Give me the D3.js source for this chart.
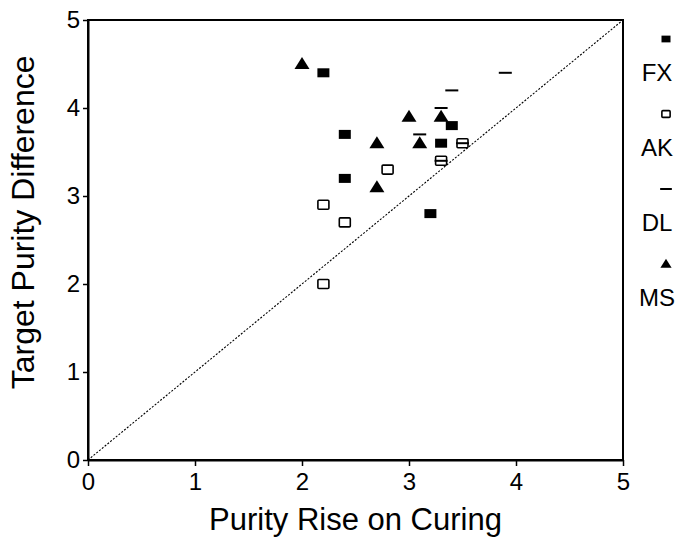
<!DOCTYPE html>
<html>
<head>
<meta charset="utf-8">
<script src="https://cdn.jsdelivr.net/npm/d3@7"></script>
<style>
  body { margin: 0; background: #fff; }
  text { font-family: "Liberation Sans", Arial, sans-serif; fill: #000; }
</style>
</head>
<body>
<div id="chart"></div>
<script>
// tick labels
const xTicks = [0, 1, 2, 3, 4, 5];
const yTicks = [0, 1, 2, 3, 4, 5];

// series values, [purity rise, target difference]
const fx = [[2.2, 4.4], [2.4, 3.7], [2.4, 3.2], [3.3, 3.6], [3.4, 3.8], [3.2, 2.8]];
const ak = [[2.2, 2.9], [2.4, 2.7], [2.8, 3.3], [2.2, 2.0], [3.3, 3.4], [3.5, 3.6]];
const dl = [[3.9, 4.4], [3.4, 4.2], [3.3, 4.0], [3.1, 3.7], [3.5, 3.6], [3.3, 3.4]];
const ms = [[2.0, 4.5], [2.7, 3.6], [2.7, 3.1], [3.0, 3.9], [3.3, 3.9], [3.1, 3.6]];

const categories = ['FX', 'AK', 'DL', 'MS'];
const seriesData = { FX: fx, AK: ak, DL: dl, MS: ms };

const width = 683, height = 539;
const x = d3.scaleLinear().domain([0, 5]).range([88, 623]);
const y = d3.scaleLinear().domain([0, 5]).range([460, 20]);

const svg = d3.select('#chart')
  .append('svg')
  .attr('width', width)
  .attr('height', height);

// frame
svg.append('rect')
  .attr('x', x(0)).attr('y', y(5))
  .attr('width', x(5) - x(0)).attr('height', y(0) - y(5))
  .attr('fill', 'none').attr('stroke', '#000').attr('stroke-width', 2);

// 1:1 line
svg.append('line')
  .attr('x1', x(0)).attr('y1', y(0))
  .attr('x2', x(5)).attr('y2', y(5))
  .attr('stroke', '#000').attr('stroke-width', 1.1)
  .attr('stroke-dasharray', '2,1.6');

const xAxis = svg.append('g')
  .attr('transform', `translate(0, ${y(0)})`)
  .call(d3.axisBottom(x).tickValues(xTicks).tickFormat(d3.format('d'))
    .tickSize(6).tickSizeOuter(0).tickPadding(7));
const yAxis = svg.append('g')
  .attr('transform', `translate(${x(0)}, 0)`)
  .call(d3.axisLeft(y).tickValues(yTicks).tickFormat(d3.format('d'))
    .tickSize(5).tickSizeOuter(0).tickPadding(3));

[xAxis, yAxis].forEach(g => {
  g.select('.domain').attr('stroke-width', 2);
  g.selectAll('.tick line').attr('stroke-width', 1.5);
  g.selectAll('text')
    .style('font-family', '"Liberation Sans", Arial, sans-serif')
    .style('font-size', '24px')
    .attr('fill', '#000');
});

// axis titles
svg.append('text')
  .attr('x', (x(0) + x(5)) / 2)
  .attr('y', 530)
  .attr('text-anchor', 'middle')
  .style('font-size', '31px')
  .text('Purity Rise on Curing');

svg.append('text')
  .attr('transform', `translate(34, ${y(2.7)}) rotate(-90)`)
  .attr('text-anchor', 'middle')
  .style('font-size', '32px')
  .text('Target Purity Difference');

// marker drawing
function drawMarker(g, type, cx, cy, s) {
  if (type === 'FX') {
    g.append('rect').attr('x', cx - 6 * s).attr('y', cy - 4.5 * s)
      .attr('width', 12 * s).attr('height', 9 * s).attr('fill', '#000');
  } else if (type === 'AK') {
    g.append('rect').attr('x', cx - 5.5 * s).attr('y', cy - 4.5 * s)
      .attr('width', 11 * s).attr('height', 9 * s).attr('rx', 1)
      .attr('fill', '#fff').attr('stroke', '#000').attr('stroke-width', 1.6);
  } else if (type === 'DL') {
    g.append('line').attr('x1', cx - 6.5 * s).attr('x2', cx + 6.5 * s)
      .attr('y1', cy).attr('y2', cy)
      .attr('stroke', '#000').attr('stroke-width', 2);
  } else {
    g.append('path')
      .attr('d', `M${cx},${cy - 7 * s}L${cx + 7.5 * s},${cy + 5 * s}L${cx - 7.5 * s},${cy + 5 * s}Z`)
      .attr('fill', '#000');
  }
}

const pts = svg.append('g');
categories.forEach(c => {
  seriesData[c].forEach(d => drawMarker(pts, c, x(d[0]), y(d[1]), 1));
});

// legend
const legend = svg.append('g');
const legendTop = 39, legendStep = 75;
categories.forEach((c, i) => {
  const ly = legendTop + i * legendStep;
  drawMarker(legend, c, 666, ly, c === 'DL' ? 0.9 : 0.75);
  legend.append('text')
    .attr('x', 657)
    .attr('y', ly + 42)
    .attr('text-anchor', 'middle')
    .style('font-size', '24px')
    .text(c);
});
</script>
</body>
</html>
